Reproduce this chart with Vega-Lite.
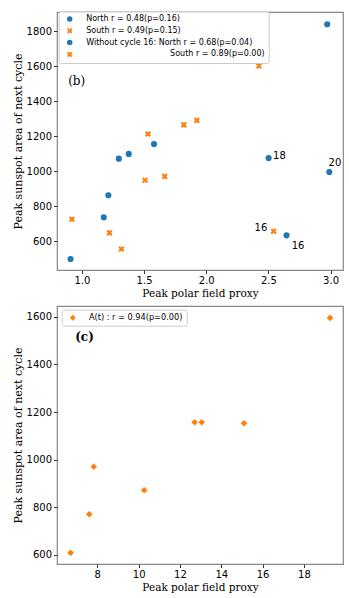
{
  "$schema": "https://vega.github.io/schema/vega-lite/v6.json",
  "autosize": {"type": "pad"},
  "padding": {"left": 11, "top": 9, "right": 5, "bottom": 5},
  "background": "white",
  "spacing": 36,
  "bounds": "flush",
  "resolve": {
    "scale": {"x": "independent", "y": "independent", "color": "independent", "shape": "independent"},
    "legend": {"color": "independent", "shape": "independent"}
  },
  "config": {
    "view": {"stroke": "#888888", "strokeWidth": 1.2},
    "axis": {
      "domain": false, "grid": false,
      "labelFont": "DejaVu Sans", "labelFontSize": 10, "labelColor": "black",
      "tickColor": "#333333", "tickSize": 3.5, "labelPadding": 2,
      "titleFont": "DejaVu Serif", "titleFontWeight": "normal", "titleColor": "black", "titleFontSize": 10.5
    },
    "axisX": {"titlePadding": 3},
    "axisY": {"titlePadding": 3, "format": "d"},
    "legend": {
      "orient": "none", "title": null,
      "fillColor": "rgba(255,255,255,0.8)", "strokeColor": "#cccccc", "cornerRadius": 2,
      "padding": 4, "labelFont": "DejaVu Sans", "labelFontSize": 8, "labelColor": "black",
      "labelLimit": 400, "symbolOffset": 3, "rowPadding": 3.8, "symbolStrokeWidth": 0
    }
  },
  "datasets": {
    "b": [
      {"x": 2.973, "y": 1840, "series": "North r = 0.48(p=0.16)"},
      {"x": 1.58, "y": 1156, "series": "North r = 0.48(p=0.16)"},
      {"x": 1.297, "y": 1072, "series": "North r = 0.48(p=0.16)"},
      {"x": 1.377, "y": 1099, "series": "North r = 0.48(p=0.16)"},
      {"x": 2.502, "y": 1076, "series": "North r = 0.48(p=0.16)"},
      {"x": 2.99, "y": 996, "series": "North r = 0.48(p=0.16)"},
      {"x": 1.213, "y": 863, "series": "North r = 0.48(p=0.16)"},
      {"x": 1.176, "y": 737, "series": "North r = 0.48(p=0.16)"},
      {"x": 2.646, "y": 634, "series": "North r = 0.48(p=0.16)"},
      {"x": 0.909, "y": 499, "series": "North r = 0.48(p=0.16)"},
      {"x": 2.424, "y": 1602, "series": "South r = 0.49(p=0.15)"},
      {"x": 1.532, "y": 1213, "series": "South r = 0.49(p=0.15)"},
      {"x": 1.82, "y": 1265, "series": "South r = 0.49(p=0.15)"},
      {"x": 1.925, "y": 1291, "series": "South r = 0.49(p=0.15)"},
      {"x": 1.508, "y": 949, "series": "South r = 0.49(p=0.15)"},
      {"x": 1.666, "y": 971, "series": "South r = 0.49(p=0.15)"},
      {"x": 0.92, "y": 726, "series": "South r = 0.49(p=0.15)"},
      {"x": 1.222, "y": 648, "series": "South r = 0.49(p=0.15)"},
      {"x": 1.318, "y": 556, "series": "South r = 0.49(p=0.15)"},
      {"x": 2.542, "y": 657, "series": "South r = 0.49(p=0.15)"}
    ],
    "blabels": [
      {"x": 2.589, "y": 1087, "label": "18"},
      {"x": 3.035, "y": 1046, "label": "20"},
      {"x": 2.44, "y": 676, "label": "16"},
      {"x": 2.739, "y": 575, "label": "16"}
    ],
    "c": [
      {"x": 19.26, "y": 1596, "series": "A(t) : r = 0.94(p=0.00)"},
      {"x": 12.71, "y": 1157, "series": "A(t) : r = 0.94(p=0.00)"},
      {"x": 13.05, "y": 1157, "series": "A(t) : r = 0.94(p=0.00)"},
      {"x": 15.10, "y": 1153, "series": "A(t) : r = 0.94(p=0.00)"},
      {"x": 7.83, "y": 970, "series": "A(t) : r = 0.94(p=0.00)"},
      {"x": 10.27, "y": 871, "series": "A(t) : r = 0.94(p=0.00)"},
      {"x": 7.61, "y": 770, "series": "A(t) : r = 0.94(p=0.00)"},
      {"x": 6.71, "y": 608, "series": "A(t) : r = 0.94(p=0.00)"}
    ]
  },
  "vconcat": [
    {
      "width": 286, "height": 258,
      "encoding": {
        "x": {"field": "x", "type": "quantitative", "scale": {"domain": [0.80, 3.10], "nice": false, "zero": false},
              "axis": {"values": [1, 1.5, 2, 2.5, 3], "format": ".1f", "title": "Peak polar field proxy"}},
        "y": {"field": "y", "type": "quantitative", "scale": {"domain": [436, 1910], "nice": false, "zero": false},
              "axis": {"values": [600, 800, 1000, 1200, 1400, 1600, 1800], "title": "Peak sunspot area of next cycle", "titleFontSize": 11}}
      },
      "layer": [
        {
          "data": {"name": "b"},
          "mark": {"type": "point", "filled": true, "opacity": 1, "size": 38},
          "encoding": {
            "color": {"field": "series", "type": "nominal",
              "scale": {"domain": ["North r = 0.48(p=0.16)", "South r = 0.49(p=0.15)", "Without cycle 16: North r = 0.68(p=0.04)", "South r = 0.89(p=0.00)"],
                        "range": ["#1f77b4", "#ff7f0e", "#1f77b4", "#ff7f0e"]},
              "legend": {"legendX": 1.7, "legendY": -1, "labelOffset": 12.5, "symbolSize": 30,
                "labelExpr": "datum.label == 'South r = 0.89(p=0.00)' ? '\u200b\u00a0\u00a0\u00a0\u00a0\u00a0\u00a0\u00a0\u00a0\u00a0\u00a0\u00a0\u00a0\u00a0\u00a0\u00a0\u00a0\u00a0\u00a0\u00a0\u00a0\u00a0\u00a0\u00a0\u00a0\u00a0\u00a0\u00a0\u00a0\u00a0\u00a0\u00a0\u00a0\u00a0South r = 0.89(p=0.00)' : datum.label"}},
            "shape": {"field": "series", "type": "nominal",
              "scale": {"domain": ["North r = 0.48(p=0.16)", "South r = 0.49(p=0.15)", "Without cycle 16: North r = 0.68(p=0.04)", "South r = 0.89(p=0.00)"],
                        "range": ["circle", "M-1,-0.5L-0.5,-1L0,-0.5L0.5,-1L1,-0.5L0.5,0L1,0.5L0.5,1L0,0.5L-0.5,1L-1,0.5L-0.5,0Z", "circle", "M-1,-0.5L-0.5,-1L0,-0.5L0.5,-1L1,-0.5L0.5,0L1,0.5L0.5,1L0,0.5L-0.5,1L-1,0.5L-0.5,0Z"]}}
          }
        },
        {
          "data": {"name": "blabels"},
          "mark": {"type": "text", "font": "DejaVu Sans", "fontSize": 10, "color": "black", "align": "center", "baseline": "middle"},
          "encoding": {"text": {"field": "label"}}
        },
        {
          "data": {"values": [{"x": 0.958, "y": 1516, "label": "(b)"}]},
          "mark": {"type": "text", "font": "DejaVu Serif", "fontSize": 12, "color": "black", "align": "center", "baseline": "middle"},
          "encoding": {"text": {"field": "label"}}
        }
      ]
    },
    {
      "width": 286, "height": 258,
      "encoding": {
        "x": {"field": "x", "type": "quantitative", "scale": {"domain": [6.05, 19.89], "nice": false, "zero": false},
              "axis": {"values": [8, 10, 12, 14, 16, 18], "title": "Peak polar field proxy"}},
        "y": {"field": "y", "type": "quantitative", "scale": {"domain": [561, 1646], "nice": false, "zero": false},
              "axis": {"values": [600, 800, 1000, 1200, 1400, 1600], "title": "Peak sunspot area of next cycle", "titleFontSize": 11}}
      },
      "layer": [
        {
          "data": {"name": "c"},
          "mark": {"type": "point", "filled": true, "opacity": 1, "size": 44},
          "encoding": {
            "color": {"field": "series", "type": "nominal", "scale": {"range": ["#ff7f0e"]},
              "legend": {"legendX": 4.7, "legendY": 3.7, "labelOffset": 12, "symbolSize": 36, "padding": 4, "labelFontSize": 8.2}},
            "shape": {"field": "series", "type": "nominal", "scale": {"range": ["diamond"]}}
          }
        },
        {
          "data": {"values": [{"x": 7.38, "y": 1516, "label": "(c)"}]},
          "mark": {"type": "text", "font": "DejaVu Serif", "fontSize": 12, "fontWeight": "bold", "color": "black", "align": "center", "baseline": "middle"},
          "encoding": {"text": {"field": "label"}}
        }
      ]
    }
  ]
}
